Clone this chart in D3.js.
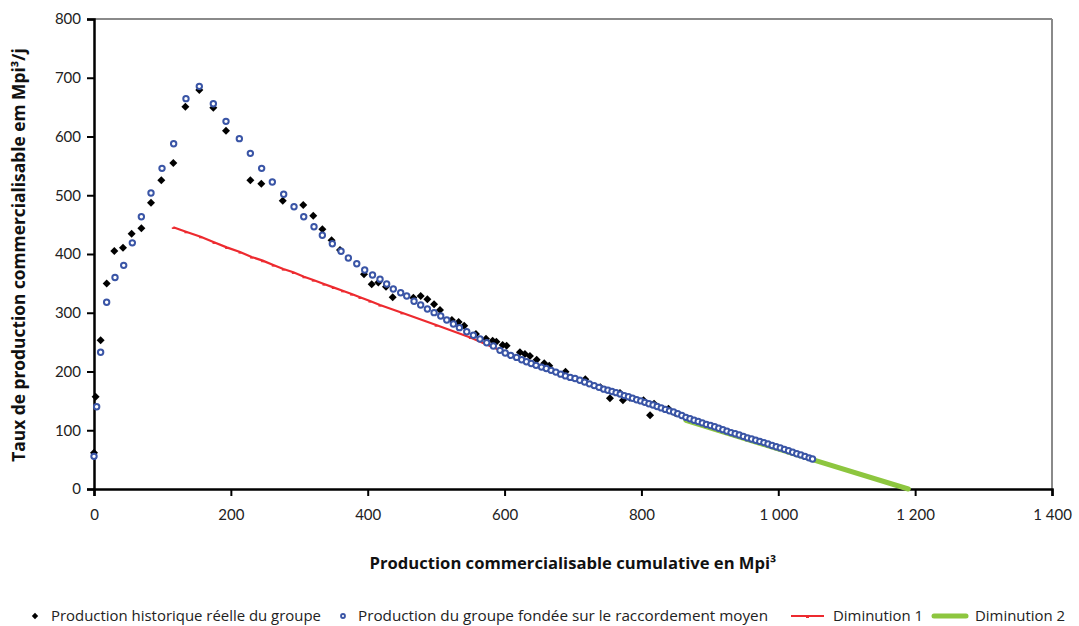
<!DOCTYPE html>
<html lang="fr">
<head>
<meta charset="UTF-8">
<title>Production commercialisable</title>
<script src="https://d3js.org/d3.v7.min.js"></script>
<style>
  body { margin: 0; background: #fff; }
  svg { display: block; font-family: "Open Sans", "DejaVu Sans", sans-serif; }
  .axis-title { font-size: 14px; font-weight: bold; fill: #111; }
  .legend-text { font-size: 14px; fill: #222; }
</style>
</head>
<body>
<svg id="chart"></svg>
<script>
// Production historique réelle du groupe [cumul, taux]
const historique = [
  [0, 61.8], [2.4, 157], [9.7, 253], [18.5, 350], [29.7, 405], [42.4, 410.7], [55, 434.6],
  [69.2, 443.7], [83.3, 487.3], [98.4, 525.4], [115.9, 554.9], [133.5, 650.7], [153.9, 679],
  [174.4, 649], [192.9, 610], [228.5, 525.4], [244.5, 519.6], [275.8, 490.7], [305.8, 483.4],
  [320.4, 465.2], [333.7, 442], [347.2, 423.3], [359.5, 406.8], [394.6, 365.4], [405.8, 348.4],
  [415.5, 351.5], [426.7, 344.4], [436.5, 326.3], [466.7, 325.6], [477.4, 328.5], [487.2, 322.9],
  [497, 314.4], [505.6, 304.7], [523, 287.7], [532.9, 284.3], [541, 278], [558.2, 263.8],
  [572.9, 255.8], [582.5, 252.5], [588, 250.7], [597.2, 245], [603, 244], [622.5, 232.6],
  [629.8, 229.8], [637.1, 226.4], [646.9, 220], [658, 214], [665.3, 210], [689, 199.7],
  [718, 187], [740, 173], [754, 154.4], [768.7, 163.5], [773, 151], [783, 155.5], [803, 151],
  [812.6, 125.7], [818.5, 145.3], [839.5, 136.5], [849.3, 129.5]
];

// Production du groupe fondée sur le raccordement moyen
const raccordement = [
  [0, 55.6], [3.9, 140], [9.7, 232.7], [18.5, 317.8], [30.7, 360], [43.4, 380.7], [56, 419],
  [69.2, 463.5], [83.3, 503.8], [99.4, 545.8], [116.4, 587.7], [134.4, 664.4], [153.9, 685.4],
  [174.4, 655.8], [192.9, 625.8], [212.4, 596.3], [228.5, 571.3], [245, 545.8], [260.6, 522.6],
  [277.2, 501.6], [292.3, 480.5], [306.5, 463.5], [321.5, 446.5], [333.7, 431.8], [348.3, 417.5],
  [361, 404.6], [371.7, 393.2], [384, 383.5], [395.6, 372.8], [407, 364.3], [418, 357.2],
  [427.7, 349], [437.4, 340.4], [448.2, 334.1], [457, 328.5], [467.7, 319.5], [477.4, 313.2],
  [487.2, 306.4], [497, 300.2], [506.7, 294.5], [515.5, 287.7], [525.2, 280.9], [534, 274.6],
  [544.7, 267.7], [554.4, 261.6], [564.1, 255.3], [573.9, 249], [583.6, 243.4], [593.3, 236],
  [601, 231.5], [609, 227.5], [617.6, 224], [625, 220], [632, 216.5], [639, 213.5], [646, 210.5],
  [654, 207.5], [661, 205], [668, 202], [675, 199], [682, 195.5], [689, 192.5], [696, 190],
  [703, 188], [710, 185], [717, 182], [724, 179], [731, 176], [738, 173], [745, 170], [751, 168],
  [757, 166], [763, 164], [769, 161.5], [775, 159], [781, 157], [787, 154.5], [793, 152],
  [799, 150], [805, 147.5], [811, 145], [817, 143], [823, 140.5], [829, 138], [835, 135.5],
  [841, 133], [847, 131], [853, 128], [859, 125], [865, 122], [871, 119.5], [877, 117],
  [883, 115], [889, 112.5], [895, 110], [901, 108], [907, 106], [913, 103.5], [919, 101],
  [925, 98.5], [931, 96], [937, 94], [943, 92], [949, 89.5], [955, 87], [961, 85], [967, 83],
  [973, 81], [979, 79], [985, 76.5], [991, 74], [997, 72], [1003, 70], [1009, 67.5], [1015, 65],
  [1021, 62.5], [1027, 60], [1033, 58], [1039, 55.5], [1045, 53], [1050, 51]
];

// Diminution 1 (ligne rouge avec petits repères)
const diminution1 = [
  [115.9, 445.4], [134.4, 438], [155.9, 429.5], [175.4, 419.9], [193.9, 411.3], [213.4, 403.4],
  [230.4, 394.9], [246.5, 388.7], [262, 381.3], [276.7, 374.5], [291.3, 368.8], [306.9, 361.4],
  [320.5, 355.7], [336.1, 348.9], [349.7, 343.2], [363.4, 337.5], [376.5, 331.9], [388.7, 326.3],
  [403.3, 320], [417.9, 313.2], [450, 300], [500, 279], [550, 258], [600, 233], [650, 210],
  [710, 186.5], [780, 159], [850, 130]
];

// Diminution 2 (ligne verte épaisse)
const diminution2 = [[865, 117], [1050, 50], [1190, 0]];

const xTicks = [0, 200, 400, 600, 800, 1000, 1200, 1400];
const yTicks = [0, 100, 200, 300, 400, 500, 600, 700, 800];

const legendLabels = [
  "Production historique réelle du groupe",
  "Production du groupe fondée sur le raccordement moyen",
  "Diminution 1",
  "Diminution 2"
];

const W = 1079, H = 626;
const margin = { top: 19, right: 27, bottom: 137, left: 94 };
const innerW = W - margin.left - margin.right;
const innerH = H - margin.top - margin.bottom;

const svg = d3.select("#chart").attr("width", W).attr("height", H);
svg.append("rect").attr("width", W).attr("height", H).attr("fill", "#fff");

const g = svg.append("g").attr("transform", `translate(${margin.left},${margin.top})`);

const x = d3.scaleLinear().domain([0, 1400]).range([0, innerW]);
const y = d3.scaleLinear().domain([0, 800]).range([innerH, 0]);

const fmt = d => d3.format(",")(d).replace(/,/g, " ");

// resize a text so that it spans the same width as in the original
function fitWidth(sel, target) {
  const w = sel.node().getComputedTextLength();
  const fs = parseFloat(sel.style("font-size"));
  const size = fs * target / w;
  sel.style("font-size", size.toFixed(2) + "px");
  return size;
}

// cadre gris (haut et droite)
g.append("line").attr("x1", 0).attr("x2", innerW).attr("y1", 0).attr("y2", 0)
  .attr("stroke", "#8a8a8a").attr("stroke-width", 2);
g.append("line").attr("x1", innerW).attr("x2", innerW).attr("y1", 0).attr("y2", innerH)
  .attr("stroke", "#8a8a8a").attr("stroke-width", 2);

// axes
const xAxis = g.append("g").attr("transform", `translate(0,${innerH})`)
  .call(d3.axisBottom(x).tickValues(xTicks).tickSize(7).tickPadding(13).tickFormat(fmt));
const yAxis = g.append("g")
  .call(d3.axisLeft(y).tickValues(yTicks).tickSize(7).tickPadding(6).tickFormat(fmt));
[xAxis, yAxis].forEach(a => {
  a.select(".domain").attr("stroke", "#000").attr("stroke-width", 2.5);
  a.selectAll(".tick line").attr("stroke", "#000").attr("stroke-width", 2);
  a.selectAll(".tick text").attr("fill", "#222")
    .style("font-family", "Lato, sans-serif").style("font-size", "15px");
});

const line = d3.line().x(d => x(d[0])).y(d => y(d[1]));

// Diminution 1
g.append("path").datum(diminution1).attr("d", line)
  .attr("fill", "none").attr("stroke", "#ed2a2f").attr("stroke-width", 2.2);
g.selectAll(".red-mark").data(diminution1).enter().append("line")
  .attr("x1", d => x(d[0]) - 1.5).attr("x2", d => x(d[0]) + 1.5)
  .attr("y1", d => y(d[1]) + 0.8).attr("y2", d => y(d[1]) + 0.8)
  .attr("stroke", "#ed2a2f").attr("stroke-width", 1.6);

// Diminution 2
g.append("path").datum(diminution2).attr("d", line)
  .attr("fill", "none").attr("stroke", "#8dc63f").attr("stroke-width", 5).attr("stroke-linecap", "round");

// historique: losanges noirs (carrés tournés)
const square = d3.symbol().type(d3.symbolSquare).size(32);
g.selectAll(".hist").data(historique).enter().append("path")
  .attr("d", square)
  .attr("transform", d => `translate(${x(d[0])},${y(d[1])}) rotate(45)`)
  .attr("fill", "#000");

// raccordement: cercles bleus creux
g.selectAll(".racc").data(raccordement).enter().append("circle")
  .attr("cx", d => x(d[0])).attr("cy", d => y(d[1])).attr("r", 2.7)
  .attr("fill", "#fff").attr("stroke", "#3a55a6").attr("stroke-width", 2);

// titres des axes
const xTitle = svg.append("text").attr("class", "axis-title")
  .attr("x", 573).attr("y", 569).attr("text-anchor", "middle")
  .text("Production commercialisable cumulative en Mpi³");
fitWidth(xTitle, 407);
const yTitle = svg.append("text").attr("class", "axis-title")
  .attr("transform", "translate(25,255) rotate(-90)").attr("text-anchor", "middle")
  .text("Taux de production commercialisable em Mpi³/j");
fitWidth(yTitle, 414);

// légende
const ly = 616;
const leg = svg.append("g");
leg.append("path").attr("d", d3.symbol().type(d3.symbolSquare).size(20))
  .attr("transform", `translate(35,${ly}) rotate(45)`).attr("fill", "#000");
leg.append("circle").attr("cx", 343).attr("cy", ly).attr("r", 2)
  .attr("fill", "#fff").attr("stroke", "#3a55a6").attr("stroke-width", 1.8);
leg.append("line").attr("x1", 791).attr("x2", 824).attr("y1", ly).attr("y2", ly)
  .attr("stroke", "#ed2a2f").attr("stroke-width", 2);
leg.append("line").attr("x1", 806).attr("x2", 809).attr("y1", ly + 1).attr("y2", ly + 1)
  .attr("stroke", "#ed2a2f").attr("stroke-width", 2);
leg.append("line").attr("x1", 934).attr("x2", 966).attr("y1", ly).attr("y2", ly)
  .attr("stroke", "#8dc63f").attr("stroke-width", 5).attr("stroke-linecap", "round");

const legendX = [51, 358, 833, 975];
let legendSize = 14;
legendLabels.forEach((t, i) => {
  const txt = leg.append("text").attr("class", "legend-text")
    .attr("x", legendX[i]).attr("y", ly + 5).text(t);
  if (i === 0) legendSize = fitWidth(txt, 270);
  else if (i === 1) fitWidth(txt, 410);
  else txt.style("font-size", legendSize.toFixed(2) + "px");
});
</script>
</body>
</html>
